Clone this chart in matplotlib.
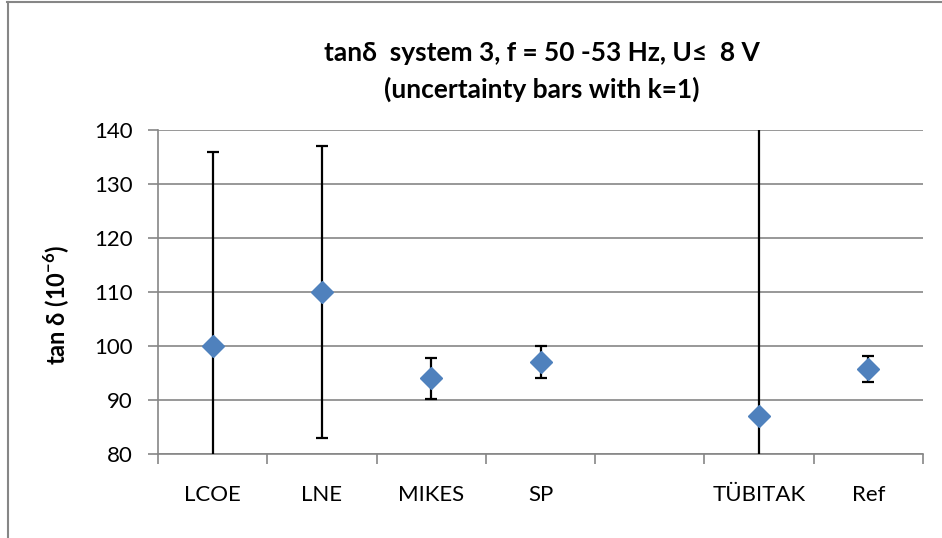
import matplotlib
matplotlib.use('Agg')
import matplotlib.pyplot as plt
from matplotlib.lines import Line2D

plt.rcParams['font.family'] = ['Lato', 'DejaVu Sans']
plt.rcParams['mathtext.fontset'] = 'custom'
plt.rcParams['mathtext.rm'] = 'Lato'
plt.rcParams['mathtext.bf'] = 'Lato:bold'

labs = ['LCOE', 'LNE', 'MIKES', 'SP', '', 'TÜBITAK', 'Ref']
vals = [100, 110, 94.0, 97.0, None, 87.0, 95.8]
errs = [36, 27, 3.8, 3.0, None, 60, 2.4]

xs = [i for i, v in enumerate(vals) if v is not None]
ys = [v for v in vals if v is not None]
es = [e for e in errs if e is not None]

fig = plt.figure(figsize=(9.42, 5.38), dpi=100)
ax = fig.add_axes([158/942, 1-454/538, (923-158)/942, (454-130)/538])

ax.errorbar(xs, ys, yerr=es, fmt='none', ecolor='black', elinewidth=1.6,
            capsize=4.3, capthick=1.6, zorder=3)
ax.plot(xs, ys, 'D', color='#4F81BD', markersize=11, linestyle='none', zorder=4)

ax.set_xlim(-0.5, 6.5)
ax.set_ylim(80, 140)
ax.set_yticks(range(80, 141, 10))
ax.set_xticks([i - 0.5 for i in range(8)])
ax.set_xticklabels([])
ax.set_xticks(range(7), minor=True)
ax.set_xticklabels(labs, minor=True)
ax.tick_params(axis='x', which='minor', length=0, pad=22, labelsize=16)
ax.tick_params(axis='x', which='major', length=7, color='#868686', width=1.2)
ax.tick_params(axis='y', length=7, color='#868686', width=1.2, labelsize=16, pad=11)

ax.grid(axis='y', color='#868686', linewidth=1.2)
ax.set_axisbelow(True)
for s in ['top', 'right']:
    ax.spines[s].set_visible(False)
for s in ['left', 'bottom']:
    ax.spines[s].set_color('#868686')
    ax.spines[s].set_linewidth(1.2)

fig.text(542/942, 1-53/538, 'tanδ  system 3, f = 50 -53 Hz, U≤  8 V',
         ha='center', va='center', fontsize=19, fontweight='bold')
fig.text(542/942, 1-89/538, '(uncertainty bars with k=1)',
         ha='center', va='center', fontsize=19, fontweight='bold')
fig.text(57/942, 1-305/538, 'tan δ (10$^{\\mathbf{-6}}$)', ha='center', va='center',
         rotation=90, fontsize=17, fontweight='bold')

fig.add_artist(Line2D([7.5/942, 7.5/942], [0, 1-2/538], color='#868686', lw=1.5))
fig.add_artist(Line2D([7/942, 1], [1-2/538, 1-2/538], color='#868686', lw=1.5))

fig.savefig('out.png', dpi=100)
